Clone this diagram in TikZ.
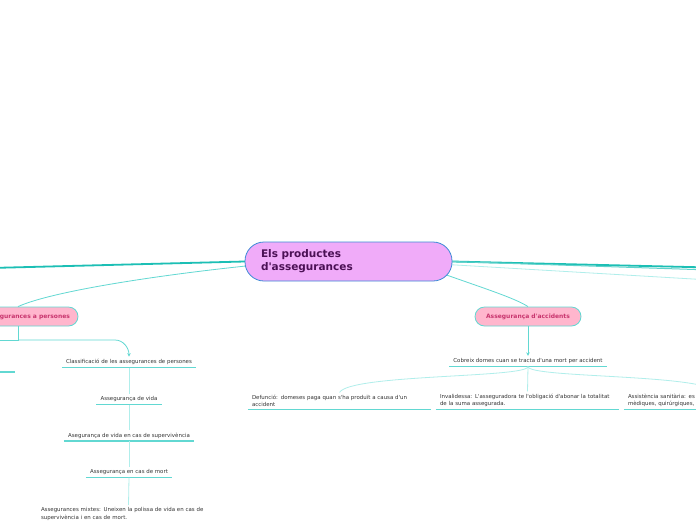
\documentclass[tikz,border=0pt]{standalone}
\usepackage{fontspec}
\setmainfont{DejaVu Sans}[Ligatures=TeXOff]
\hyphenpenalty=10000
\exhyphenpenalty=10000
\usetikzlibrary{arrows.meta,calc,backgrounds}
\definecolor{teal1}{HTML}{1CBFB5}
\definecolor{aqua}{HTML}{62D8D2}
\definecolor{lightaq}{HTML}{B0EEEB}
\definecolor{violetf}{HTML}{F0ABF9}
\definecolor{vborder}{HTML}{3D8BD6}
\definecolor{vtext}{HTML}{4B1055}
\definecolor{pinkf}{HTML}{FFB6CD}
\definecolor{pinktext}{HTML}{C8356E}
\definecolor{leaftext}{HTML}{333333}
\begin{document}
\begin{tikzpicture}[x=1pt,y=-1pt,
  central/.style={draw=vborder, fill=violetf, rounded corners=19pt, minimum height=39pt,
    text width=175pt, inner xsep=16pt, align=left, line width=0.8pt,
    font=\fontsize{10.5}{13}\selectfont\bfseries, text=vtext},
  mainnode/.style={draw=aqua, fill=pinkf, rounded corners=9.5pt, minimum height=19pt,
    line width=0.8pt, font=\fontsize{6}{7}\selectfont\bfseries, text=pinktext},
  leaf/.style={font=\fontsize{5.45}{7.2}\selectfont, text=leaftext, inner xsep=4pt, inner ysep=2.5pt},
  wide/.style={leaf, text width=175pt, align=left},
  uline/.style={draw=aqua, line width=1.6pt},
  thick/.style={draw=teal1, line width=1.8pt},
  branch/.style={draw=aqua, line width=0.8pt},
  twig/.style={draw=lightaq, line width=0.8pt},
  tip/.style={-{Stealth[length=3.5pt,width=3.5pt]}}
]
\useasboundingbox (0,0) rectangle (696,520);

\node[central] (c) at (348.5,261.5) {Els productes\\d'assegurances};

\node[mainnode, minimum width=102pt] (ap) at (27,316.5) {Assegurances a persones};
\node[mainnode, minimum width=106pt] (acc) at (528,316.5) {Assegurança d'accidents};

% left column
\node[leaf, anchor=south] (cls) at (129,367.5) {Classificació de les assegurances de persones};
\node[leaf, anchor=south] (vid) at (129,404.5) {Assegurança de vida};
\node[leaf, anchor=south] (sup) at (129,441) {Asegurança de vida en cas de supervivència};
\node[leaf, anchor=south] (mor) at (129,477.5) {Assegurança en cas de mort};
\node[wide, anchor=north] (mix) at (128.5,505) {Assegurances mixtes: Uneixen la polissa de vida en cas de supervivència i en cas de mort.};

% right column
\node[leaf, anchor=south] (cob) at (528,366.5) {Cobreix domes cuan se tracta d'una mort per accident};
\node[wide, anchor=south] (def) at (339.5,409.5) {Defunció: domeses paga quan s'ha produït a causa d'un accident};
\node[wide, anchor=south] (inv) at (527.5,409.5) {Invalidessa: L'asseguradora te l'obligació d'abonar la totalitat de la suma assegurada.};
\node[wide, anchor=south] (ass) at (715.5,409.5) {Assistència sanitària: es cobreixen totes les despeses mèdiques, quirúrgiques, farmacèutiques};

\foreach \n in {cls,vid,sup,mor,mix,cob,def,inv,ass}
  \draw[uline] (\n.south west) -- (\n.south east);

\coordinate (offL) at (-10,268);
\coordinate (offR1) at (710,267.5);
\coordinate (offR2) at (710,270);
\coordinate (offR3) at (710,280);
\coordinate (apin) at ($(ap.north)+(-9,0)$);
\coordinate (apout) at ($(ap.south)+(-9,0)$);
\coordinate (j1) at (18,340);
\coordinate (offL2) at (-10,340);
\coordinate (u1) at (-20,372);
\coordinate (u2) at (15,372);

\begin{scope}[on background layer]
  \fill[white] (0,0) rectangle (696,520);
  \draw[thick] (c.center) -- (c.west) -- (offL);
  \draw[thick] (c.center) -- (c.east) -- (offR1);
  \draw[draw=teal1!70, line width=1pt] (c.center) -- (c.east) -- (offR2);
  \draw[branch, draw=lightaq] ($(c.east)+(-5,3)$) -- (offR3);
  \draw[branch] ($(c.west)+(6,4)$) .. controls (150,276) and (50,292) .. (apin);
  \draw[branch] ($(c.east)+(-10,12)$) .. controls (480,287) and (515,298) .. (acc.north);
\end{scope}

\draw[branch] (apout) -- (j1) -- (offL2);
\draw[branch, tip] (j1) -- (115,340) to[out=0,in=90] (cls.north);
\draw[uline] (u1) -- (u2);
\draw[twig] (cls.south) -- (vid.north);
\draw[twig] (vid.south) -- (sup.north);
\draw[twig] (sup.south) -- (mor.north);
\draw[twig] (mor.south) -- (mix.north);

\draw[branch, tip] (acc.south) -- (cob.north);
\draw[twig] (cob.south) .. controls (528,378) and (350,374) .. (def.north);
\draw[twig] (cob.south) -- (inv.north);
\draw[twig] (cob.south) .. controls (528,378) and (700,374) .. (ass.north);
\end{tikzpicture}
\end{document}
